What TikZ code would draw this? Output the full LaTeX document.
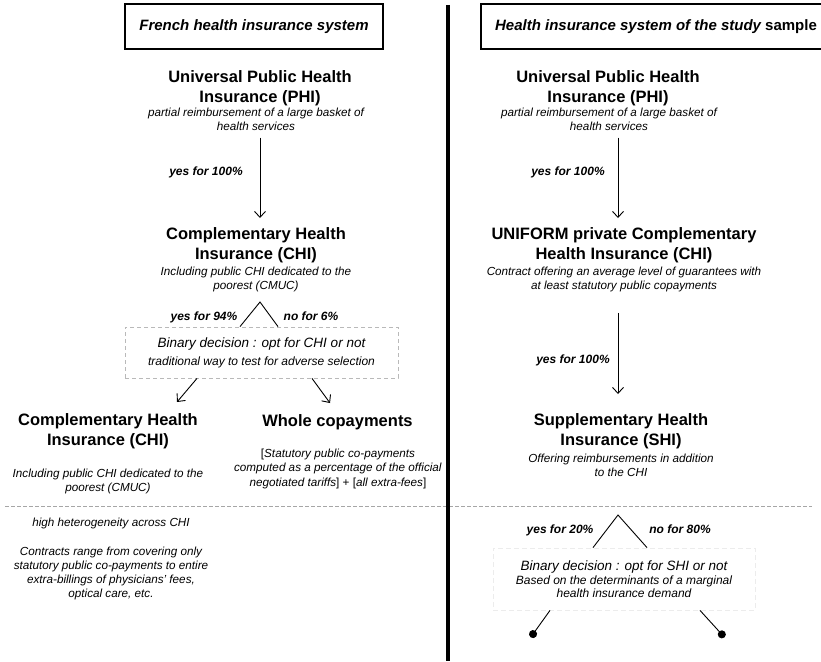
\documentclass[tikz,border=0pt]{standalone}
\usepackage{fontspec}
\setmainfont{Liberation Sans}
\usetikzlibrary{arrows.meta, positioning}
\tikzstyle{titlebox} = [draw, line width=2.6pt, minimum height=45pt, font=\fontsize{15}{18}\selectfont\bfseries\itshape]
\tikzstyle{head} = [align=center, anchor=base, font=\fontsize{16.5}{19.5}\selectfont\bfseries]
\tikzstyle{desc} = [align=center, anchor=base, font=\fontsize{11.7}{14}\selectfont\itshape]
\tikzstyle{lab} = [anchor=base, font=\fontsize{12}{14}\selectfont\bfseries\itshape]
\tikzstyle{decbox} = [draw, dashed, align=center, line width=0.8pt, font=\itshape]
\tikzstyle{line} = [draw, -{Straight Barb[length=6pt,width=11pt]}, line width=0.9pt]
\tikzstyle{fork} = [draw, line width=0.9pt]

\begin{document}
\begin{tikzpicture}[x=1pt, y=-1pt]
  \clip (0,0) rectangle (821,661);
  % left: french system
  \node (tL) [titlebox, minimum width=258pt] at (254,26.5) {French health insurance system};
  \node (phiL) [head] at (260,102) {Universal Public Health\\Insurance (PHI)};
  \node (phiLd) [desc] at (256,130) {partial reimbursement of a large basket of\\health services};
  \node (chiL) [head] at (256,259) {Complementary Health\\Insurance (CHI)};
  \node (chiLd) [desc] at (256,289) {Including public CHI dedicated to the\\poorest (CMUC)};
  \node (y100L) [lab] at (206,175) {yes for 100\%};
  \draw [line, shorten <=4pt, shorten >=6pt] (phiLd.south -| 260,0) -- (chiL.north -| 260,0);
  \node (decL) [decbox, draw=gray!55, dash pattern=on 4pt off 3pt, minimum width=273pt, minimum height=51pt] at (261.5,352.5)
    {\fontsize{13.5}{16}\selectfont Binary decision : opt for CHI or not\\[6pt]
     \fontsize{12}{14}\selectfont traditional way to test for adverse selection};
  \coordinate (forkL) at (260,302);
  \draw [fork] ([xshift=-21.5pt]decL.north) -- (forkL) -- ([xshift=16.5pt]decL.north);
  \node (y94) [lab] at (204,320) {yes for 94\%};
  \node (n6) [lab] at (311,320) {no for 6\%};
  \coordinate (tipA) at (177,402);
  \coordinate (tipB) at (330,403);
  \draw [line] ([xshift=-64.5pt]decL.south) -- (tipA);
  \draw [line] ([xshift=50.5pt]decL.south) -- (tipB);
  \node (chiB) [head] at (108,445) {Complementary Health\\Insurance (CHI)};
  \node (chiBd) [desc] at (108,491) {Including public CHI dedicated to the\\poorest (CMUC)};
  \node (whole) [head] at (337.5,426) {Whole copayments};
  \node (wholed) [desc, font=\fontsize{11.7}{14.5}\selectfont] at (338,486)
    {[\textit{Statutory public co-payments}\\\textit{computed as a percentage of the official}\\\textit{negotiated tariffs}] + [\textit{all extra-fees}]};
  \node (hetero) [desc] at (111,597) {high heterogeneity across CHI\\[14.5pt]
    Contracts range from covering only\\statutory public co-payments to entire\\extra-billings of physicians' fees,\\optical care, etc.};
  % separators
  \draw [gray!70, dash pattern=on 4pt off 2pt, line width=0.7pt] (5,506) -- (812,506);
  \draw [line width=3.6pt] (448,5) -- (448,661);
  % right: study sample
  \node (tR) [titlebox, minimum width=350pt] at (656,26.5) {Health insurance system of the study \upshape sample};
  \node (phiR) [head] at (608,102) {Universal Public Health\\Insurance (PHI)};
  \node (phiRd) [desc] at (609,130) {partial reimbursement of a large basket of\\health services};
  \node (y100R) [lab] at (568,175) {yes for 100\%};
  \node (uni) [head] at (624,259) {UNIFORM private Complementary\\Health Insurance (CHI)};
  \node (unid) [desc] at (624,289) {Contract offering an average level of guarantees with\\at least statutory public copayments};
  \draw [line, shorten <=4pt, shorten >=6pt] (phiRd.south -| 618,0) -- (uni.north -| 618,0);
  \node (shi) [head] at (621,445) {Supplementary Health\\Insurance (SHI)};
  \node (shid) [desc] at (621,476) {Offering reimbursements in addition\\to the CHI};
  \node (y100b) [lab] at (573,363) {yes for 100\%};
  \draw [line, shorten <=18pt, shorten >=16pt] (unid.south -| 618,0) -- (shi.north -| 618,0);
  \node (decR) [decbox, draw=gray!15, dash pattern=on 5pt off 3pt, minimum width=262pt, minimum height=62pt] at (624,579)
    {\fontsize{13.5}{15}\selectfont Binary decision : opt for SHI or not\\[2pt]
     \fontsize{12}{14}\selectfont Based on the determinants of a marginal\\[1pt]
     \fontsize{12}{14}\selectfont health insurance demand};
  \coordinate (forkR) at (618,515);
  \draw [fork] ([xshift=-31pt]decR.north) -- (forkR) -- ([xshift=23pt]decR.north);
  \node (y20) [lab] at (560,533) {yes for 20\%};
  \node (n80) [lab] at (680,533) {no for 80\%};
  \coordinate (dotA) at (530.7,637.3);
  \coordinate (dotB) at (724.5,637.3);
  \draw [fork, -{Circle[length=8pt]}] ([xshift=-74pt]decR.south) -- (dotA);
  \draw [fork, -{Circle[length=8pt]}] ([xshift=76pt]decR.south) -- (dotB);
\end{tikzpicture}
\end{document}
